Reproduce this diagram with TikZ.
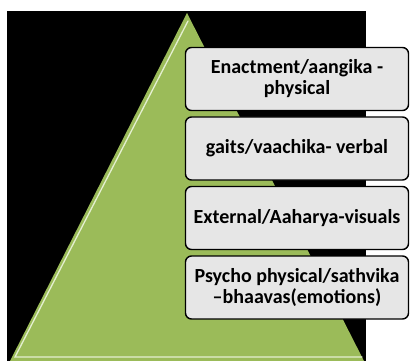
\documentclass[tikz,border=0pt]{standalone}
\usepackage{fontspec}
\setmainfont{Carlito}
\definecolor{pyrgreen}{HTML}{9BBB59}
\definecolor{bevel}{HTML}{E4EFD0}
\definecolor{boxfill}{HTML}{E6E6E6}
\begin{document}
\begin{tikzpicture}[x=1pt,y=-1pt,
  level/.style={draw=black, line width=1.4pt, fill=boxfill, rounded corners=6pt,
    minimum width=223pt, minimum height=63pt, inner sep=2pt,
    align=center, font=\fontsize{20}{21}\selectfont\bfseries, text=black}]
  \useasboundingbox (0,0) rectangle (410,361);
  % dark backdrop
  \fill[black] (7,11) rectangle (366,361);
  % pyramid
  \coordinate (apex) at (187,13);
  \coordinate (bl) at (10,361);
  \coordinate (br) at (364,361);
  \fill[pyrgreen] (apex) -- (br) -- (bl) -- cycle;
  % bevel highlight along the left side and the base
  \draw[bevel, line width=1.3pt, line cap=round]
    (188,21) -- (15,357) -- (362,357);
  % the four levels
  \node[level] (l1) at (297,79)    {Enactment/aangika -\\physical};
  \node[level] (l2) at (297,148.5) {gaits/vaachika- verbal};
  \node[level] (l3) at (297,218)   {External/Aaharya-visuals};
  \node[level] (l4) at (297,287.5) {Psycho physical/sathvika\\–bhaavas(emotions)};
\end{tikzpicture}
\end{document}
